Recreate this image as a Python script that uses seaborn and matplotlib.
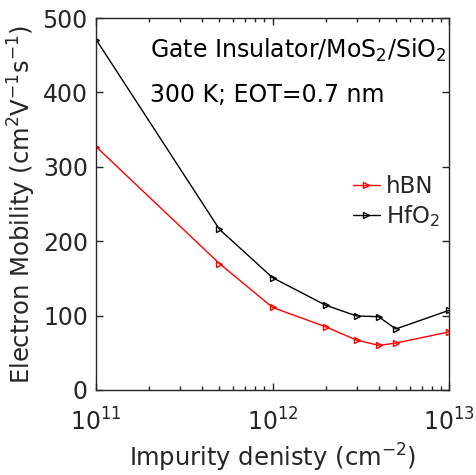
"""Electron mobility vs impurity density for hBN and HfO2 gate insulators."""

import matplotlib
matplotlib.use("Agg")
import matplotlib.pyplot as plt
import matplotlib.ticker as mticker
from matplotlib.lines import Line2D
import pandas as pd
import seaborn as sns

impurity_density = [1e11, 5e11, 1e12, 2e12, 3e12, 4e12, 5e12, 1e13]
mobility_hbn = [327, 170, 111, 85, 67, 60, 63, 78]
mobility_hfo2 = [471, 216, 151, 114, 99.5, 98.5, 82, 107]
series_labels = ["hBN", "HfO$_2$"]
series_colors = ["#ff0000", "#000000"]

sns.set_theme(style="ticks")
plt.rcParams["font.family"] = ["DejaVu Sans"]
plt.rcParams["mathtext.fontset"] = "dejavusans"

df = pd.DataFrame({
    "density": impurity_density * 2,
    "mobility": mobility_hbn + mobility_hfo2,
    "series": [series_labels[0]] * len(impurity_density) + [series_labels[1]] * len(impurity_density),
})

fig = plt.figure(figsize=(4.76, 4.75), dpi=100)
ax = fig.add_axes([0.202, 0.179, 0.741, 0.783])

sns.lineplot(data=df, x="density", y="mobility", hue="series",
             palette=dict(zip(series_labels, series_colors)),
             marker=">", markersize=5, markerfacecolor="none", markeredgewidth=1,
             linewidth=1, legend=False, ax=ax)
for line, c in zip(ax.get_lines(), series_colors):
    line.set_markeredgecolor(c)

ax.set_xscale("log")
ax.set_xlim(1e11, 1e13)
ax.set_ylim(0, 500)
ax.set_yticks([0, 100, 200, 300, 400, 500])
ax.xaxis.set_major_locator(mticker.LogLocator(base=10, numticks=10))
ax.xaxis.set_minor_locator(mticker.LogLocator(base=10, subs=range(2, 10), numticks=10))
ax.xaxis.set_minor_formatter(mticker.NullFormatter())

dark = "#262626"
for s in ax.spines.values():
    s.set_visible(True)
    s.set_color(dark)
    s.set_linewidth(1)
ax.tick_params(which="both", direction="in", top=True, right=True, colors=dark,
               labelsize=17, width=1)
ax.tick_params(which="major", length=5)
ax.tick_params(which="minor", length=3)
ax.tick_params(axis="x", which="major", pad=13)
ax.tick_params(axis="y", which="major", pad=6)

ax.set_xlabel("Impurity denisty (cm$^{-2}$)", fontsize=17.5, color=dark, labelpad=5)
ax.set_ylabel("Electron Mobility (cm$^{2}$V$^{-1}$s$^{-1}$)", fontsize=17.5, color=dark, labelpad=3)

ax.text(0.153, 0.892, "Gate Insulator/MoS$_2$/SiO$_2$", transform=ax.transAxes,
        fontsize=17, color="black", va="baseline")
ax.text(0.153, 0.774, "300 K; EOT=0.7 nm", transform=ax.transAxes,
        fontsize=17, color="black", va="baseline")

handles = [Line2D([], [], color=c, marker=">", markersize=4, markerfacecolor="none",
                  markeredgecolor=c, linewidth=1) for c in series_colors]
ax.legend(handles=handles, labels=series_labels, loc="upper right",
          bbox_to_anchor=(1.02, 0.62), frameon=False, fontsize=16.5,
          handlelength=1.2, handletextpad=0.25, labelspacing=0.2,
          borderaxespad=0.3)

fig.savefig("out.png", dpi=100)
